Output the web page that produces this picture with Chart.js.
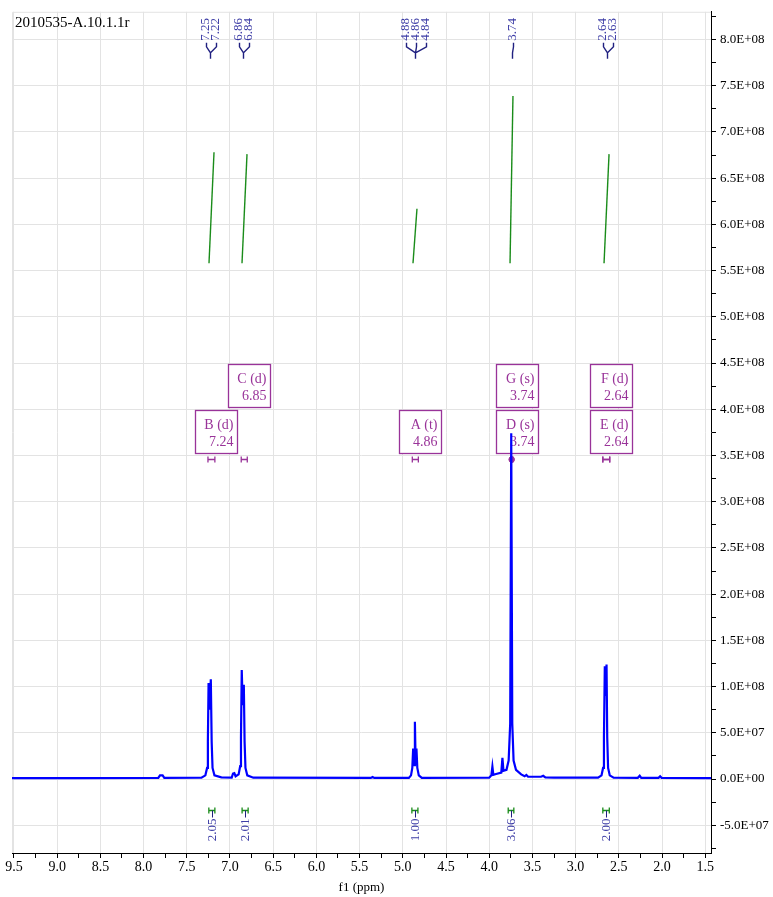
<!DOCTYPE html>
<html>
<head>
<meta charset="utf-8">
<script src="https://cdn.jsdelivr.net/npm/chart.js@4.4.0/dist/chart.umd.min.js"></script>
<style>
html, body { margin: 0; padding: 0; background: #fff; }
</style>
</head>
<body>
<canvas id="chart" width="773" height="897"></canvas>
<script>
var chart;

// Data -----------------------------------------------------------------------------------

var sampleName = '2010535-A.10.1.1r';
var axisTitle = 'f1 (ppm)';

// spectrum trace: shift (ppm) and intensity
var specPpm = [9.523, 8.80, 7.83, 7.81, 7.78, 7.76, 7.33, 7.285, 7.265, 7.256, 7.248, 7.236, 7.222, 7.212,
    7.202, 7.18, 7.10, 6.98, 6.965, 6.95, 6.935, 6.90, 6.882, 6.873, 6.864, 6.853, 6.840, 6.831, 6.821,
    6.80, 6.73, 5.37, 5.35, 5.33, 4.93, 4.905, 4.890, 4.880, 4.870, 4.860, 4.851, 4.842, 4.832, 4.815,
    4.78, 4.00, 3.975, 3.963, 3.952, 3.92, 3.86, 3.847, 3.835, 3.80, 3.775, 3.757, 3.745, 3.733, 3.718,
    3.69, 3.63, 3.59, 3.57, 3.55, 3.40, 3.375, 3.35, 3.25, 2.74, 2.70, 2.682, 2.672, 2.662, 2.652, 2.642,
    2.634, 2.624, 2.605, 2.56, 2.28, 2.258, 2.24, 2.04, 2.022, 2.005, 1.433];
var specInt = [1.0e6, 1.1e6, 1.2e6, 4.0e6, 4.0e6, 1.2e6, 1.5e6, 4.0e6, 1.2e7, 4.0e7, 1.04e8, 7.5e7, 1.08e8, 4.0e7,
    1.2e7, 4.0e6, 1.8e6, 1.5e6, 6.0e6, 6.5e6, 3.0e6, 5.0e6, 1.4e7, 4.5e7, 1.18e8, 8.0e7, 1.02e8, 4.0e7, 1.2e7,
    4.0e6, 1.5e6, 1.2e6, 2.2e6, 1.2e6, 1.3e6, 4.0e6, 1.2e7, 3.3e7, 1.5e7, 6.2e7, 1.5e7, 3.3e7, 1.2e7, 4.0e6,
    1.3e6, 1.5e6, 4.0e6, 1.35e7, 4.5e6, 5.5e6, 7.0e6, 2.3e7, 9.0e6, 1.0e7, 2.0e7, 6.0e7, 3.74e8, 6.0e7, 2.0e7,
    1.0e7, 5.0e6, 3.0e6, 4.5e6, 2.5e6, 2.5e6, 3.5e6, 1.8e6, 1.5e6, 1.5e6, 4.0e6, 1.2e7, 4.5e7, 1.22e8, 9.0e7, 1.24e8,
    4.5e7, 1.2e7, 4.0e6, 1.5e6, 1.3e6, 3.5e6, 1.3e6, 1.3e6, 3.0e6, 1.3e6, 1.0e6];

// integral curves (start/end shift, low/high level) and integral values
var intFrom = [7.243, 6.861, 4.882, 3.759, 2.671];
var intTo = [7.185, 6.803, 4.836, 3.725, 2.613];
var intLow = [5.58e8, 5.58e8, 5.58e8, 5.58e8, 5.58e8];
var intHigh = [6.78e8, 6.76e8, 6.17e8, 7.39e8, 6.76e8];
var intLabels = ['2.05', '2.01', '1.00', '3.06', '2.00'];
var intRangeHi = [7.245, 6.860, 4.895, 3.780, 2.685];
var intRangeLo = [7.175, 6.790, 4.825, 3.715, 2.610];

// peak picking labels, grouped by multiplet
var peakLabels = ['7.25', '7.22', '6.86', '6.84', '4.88', '4.86', '4.84', '3.74', '2.64', '2.63'];
var peakGroupSize = [2, 2, 3, 1, 2];

// multiplet analysis
var multLetters = ['A', 'B', 'C', 'D', 'E', 'F', 'G'];
var multTypes = ['t', 'd', 'd', 's', 'd', 'd', 's'];
var multShifts = ['4.86', '7.24', '6.85', '3.74', '2.64', '2.64', '3.74'];
var multHi = [4.890, 7.255, 6.870, 3.752, 2.685, 2.685, 3.752];
var multLo = [4.820, 7.175, 6.800, 3.728, 2.605, 2.605, 3.728];

// axis tick labels
var xTickLabels = ['9.5', '9.0', '8.5', '8.0', '7.5', '7.0', '6.5', '6.0', '5.5', '5.0', '4.5', '4.0',
    '3.5', '3.0', '2.5', '2.0', '1.5'];
var yTickLabels = ['-5.0E+07', '0.0E+00', '5.0E+07', '1.0E+08', '1.5E+08', '2.0E+08', '2.5E+08', '3.0E+08',
    '3.5E+08', '4.0E+08', '4.5E+08', '5.0E+08', '5.5E+08', '6.0E+08', '6.5E+08', '7.0E+08', '7.5E+08', '8.0E+08'];

// Constants ------------------------------------------------------------------------------

var FONT = "'Liberation Serif', 'DejaVu Serif', serif";
var GRID_COLOR = '#e3e3e3';
var SPEC_COLOR = '#0000ff';
var INT_COLOR = '#1a8c1a';
var MULT_COLOR = '#993399';
var PEAK_COLOR = '#3d3da6';
var PEAK_LINE_COLOR = '#202080';

var X_MIN = 1.433, X_MAX = 9.523;
var Y_MIN = -8.0e7, Y_MAX = 8.3e8;

var MULT_MARK_VALUE = 3.46e8;
var INT_MARK_VALUE = -3.35e7;
var BOX_W = 42, BOX_H = 43, BOX_SHIFT = 5;

// Functions ------------------------------------------------------------------------------

function majorValues(labels) {
    return labels.map(function (s) { return Number(s); });
}

function withMinor(values) {
    var out = [];
    for (var i = 0; i < values.length; i++) {
        out.push(values[i]);
        if (i < values.length - 1) out.push((values[i] + values[i + 1]) / 2);
    }
    return out;
}

function labelFor(labels, v) {
    for (var i = 0; i < labels.length; i++) {
        if (Math.abs(Number(labels[i]) - v) < 1e-6 * Math.max(1, Math.abs(v))) return labels[i];
    }
    return '';
}

function isMajor(labels, v) {
    return labelFor(labels, v) !== '';
}

function hMark(ctx, x1, x2, y, half) {
    ctx.beginPath();
    ctx.moveTo(x1, y - half); ctx.lineTo(x1, y + half);
    ctx.moveTo(x2, y - half); ctx.lineTo(x2, y + half);
    ctx.moveTo(x1, y); ctx.lineTo(x2, y);
    ctx.stroke();
}

var annotate = {
    id: 'annotate',
    beforeDatasetsDraw: function (c) {
        var ctx = c.ctx, a = c.chartArea, xs = c.scales.x, ys = c.scales.y;
        ctx.save();

        // light frame on the two open sides
        ctx.strokeStyle = GRID_COLOR;
        ctx.lineWidth = 1;
        ctx.beginPath();
        ctx.moveTo(a.left + 0.5, a.bottom);
        ctx.lineTo(a.left + 0.5, a.top + 0.5);
        ctx.lineTo(a.right, a.top + 0.5);
        ctx.stroke();

        // multiplet boxes
        var placed = [];
        var hy = Math.round(ys.getPixelForValue(MULT_MARK_VALUE)) + 0.5;
        for (var i = 0; i < multLetters.length; i++) {
            var x1 = xs.getPixelForValue(multHi[i]);
            var x2 = xs.getPixelForValue(multLo[i]);
            var cx = (x1 + x2) / 2 + BOX_SHIFT;
            var l = Math.round(cx - BOX_W / 2) + 0.5, r = l + BOX_W;
            var row = 0;
            while (placed.some(function (b) { return b.row === row && b.l < r && b.r > l; })) row++;
            placed.push({ l: l, r: r, row: row });

            var bottom = hy - 6 - row * (BOX_H + 3);
            var top = bottom - BOX_H;
            ctx.fillStyle = '#fff';
            ctx.fillRect(l, top, BOX_W, BOX_H);
            ctx.strokeStyle = MULT_COLOR;
            ctx.lineWidth = 1.3;
            ctx.strokeRect(l, top, BOX_W, BOX_H);

            ctx.fillStyle = MULT_COLOR;
            ctx.font = '14px ' + FONT;
            ctx.textAlign = 'right';
            ctx.textBaseline = 'middle';
            ctx.fillText(multLetters[i] + ' (' + multTypes[i] + ')', r - 4, top + 15);
            ctx.fillText(multShifts[i], r - 4, top + 32);

            ctx.lineWidth = 1.3;
            hMark(ctx, x1, x2, hy, 3);
            if (x2 - x1 < 4) {
                ctx.beginPath();
                ctx.arc((x1 + x2) / 2, hy, 3, 0, Math.PI * 2);
                ctx.fill();
            }
        }
        ctx.restore();
    },
    afterDraw: function (c) {
        var ctx = c.ctx, a = c.chartArea, xs = c.scales.x, ys = c.scales.y;
        ctx.save();

        // sample name
        ctx.fillStyle = '#000';
        ctx.font = '15px ' + FONT;
        ctx.textAlign = 'left';
        ctx.textBaseline = 'middle';
        ctx.fillText(sampleName, a.left + 3, a.top + 11);

        // peak labels at the top
        var k = 0;
        var leadTop = a.top + 31, leadEnd = a.top + 35, stemTop = a.top + 41, stemEnd = a.top + 47;
        ctx.font = '13px ' + FONT;
        for (var g = 0; g < peakGroupSize.length; g++) {
            var n = peakGroupSize[g], sum = 0;
            for (var j = 0; j < n; j++) sum += Number(peakLabels[k + j]);
            var sx = Math.round(xs.getPixelForValue(sum / n)) + 0.5;
            ctx.strokeStyle = PEAK_LINE_COLOR;
            ctx.lineWidth = 1.4;
            ctx.beginPath();
            ctx.moveTo(sx, stemTop); ctx.lineTo(sx, stemEnd);
            for (j = 0; j < n; j++) {
                var lx = Math.round(sx + (j - (n - 1) / 2) * 10) + 0.5;
                ctx.moveTo(lx, leadTop); ctx.lineTo(lx, leadEnd); ctx.lineTo(sx, stemTop);
            }
            ctx.stroke();
            ctx.fillStyle = PEAK_COLOR;
            for (j = 0; j < n; j++) {
                lx = sx + (j - (n - 1) / 2) * 10;
                ctx.save();
                ctx.translate(lx, leadTop - 2);
                ctx.rotate(-Math.PI / 2);
                ctx.textAlign = 'left';
                ctx.textBaseline = 'middle';
                ctx.fillText(peakLabels[k + j], 0, 0);
                ctx.restore();
            }
            k += n;
        }

        // integral labels under the baseline
        var iy = Math.round(ys.getPixelForValue(INT_MARK_VALUE)) + 0.5;
        ctx.font = '13px ' + FONT;
        for (var i = 0; i < intLabels.length; i++) {
            var x1 = xs.getPixelForValue(intRangeHi[i]);
            var x2 = xs.getPixelForValue(intRangeLo[i]);
            var cx = Math.round((x1 + x2) / 2) + 0.5;
            ctx.strokeStyle = INT_COLOR;
            ctx.lineWidth = 1.3;
            hMark(ctx, x1, x2, iy, 3);
            ctx.strokeStyle = PEAK_LINE_COLOR;
            ctx.lineWidth = 1;
            ctx.beginPath();
            ctx.moveTo(cx, iy); ctx.lineTo(cx, iy + 7);
            ctx.stroke();
            ctx.save();
            ctx.fillStyle = PEAK_COLOR;
            ctx.translate(cx, iy + 8);
            ctx.rotate(-Math.PI / 2);
            ctx.textAlign = 'right';
            ctx.textBaseline = 'middle';
            ctx.fillText(intLabels[i], 0, 0);
            ctx.restore();
        }
        ctx.restore();
    }
};

function buildDatasets() {
    var sets = [];
    for (var i = 0; i < intFrom.length; i++) {
        sets.push({
            data: [{ x: intFrom[i], y: intLow[i] }, { x: intTo[i], y: intHigh[i] }],
            borderColor: INT_COLOR,
            borderWidth: 1.4,
            showLine: true,
            pointRadius: 0
        });
    }
    sets.push({
        data: specPpm.map(function (p, i) { return { x: p, y: specInt[i] }; }),
        borderColor: SPEC_COLOR,
        borderWidth: 2.2,
        showLine: true,
        pointRadius: 0,
        tension: 0
    });
    return sets;
}

function initChart() {
    var context = document.getElementById('chart').getContext('2d');
    Chart.defaults.font.family = FONT;
    Chart.defaults.color = '#000';

    var xMajor = majorValues(xTickLabels);
    var yMajor = majorValues(yTickLabels);

    chart = new Chart(context, {
        type: 'scatter',
        data: { datasets: buildDatasets() },
        options: {
            responsive: false,
            animation: false,
            devicePixelRatio: 1,
            layout: { padding: { left: 12, top: 10, right: 0, bottom: 0 } },
            plugins: { legend: { display: false }, tooltip: { enabled: false } },
            scales: {
                x: {
                    type: 'linear',
                    reverse: true,
                    min: X_MIN,
                    max: X_MAX,
                    afterBuildTicks: function (s) {
                        s.ticks = withMinor(xMajor).map(function (v) { return { value: v }; });
                    },
                    afterFit: function (s) { s.height = 44; },
                    grid: {
                        color: function (ctx) {
                            return ctx.tick && isMajor(xTickLabels, ctx.tick.value) ? GRID_COLOR : 'rgba(0,0,0,0)';
                        },
                        tickColor: '#000',
                        tickLength: 5
                    },
                    border: { display: true, color: '#000', width: 1 },
                    ticks: {
                        autoSkip: false,
                        maxRotation: 0,
                        padding: 1,
                        font: { size: 14 },
                        color: '#000',
                        callback: function (v) { return labelFor(xTickLabels, v); }
                    },
                    title: {
                        display: true,
                        text: axisTitle,
                        font: { size: 13 },
                        color: '#000',
                        padding: { top: 0, bottom: 2 }
                    }
                },
                y: {
                    type: 'linear',
                    position: 'right',
                    min: Y_MIN,
                    max: Y_MAX,
                    afterBuildTicks: function (s) {
                        var vals = withMinor(yMajor);
                        vals.unshift(yMajor[0] - 2.5e7);
                        vals.push(yMajor[yMajor.length - 1] + 2.5e7);
                        s.ticks = vals.map(function (v) { return { value: v }; });
                    },
                    afterFit: function (s) { s.width = 62; },
                    grid: {
                        color: function (ctx) {
                            return ctx.tick && isMajor(yTickLabels, ctx.tick.value) ? GRID_COLOR : 'rgba(0,0,0,0)';
                        },
                        tickColor: '#000',
                        tickLength: 5
                    },
                    border: { display: true, color: '#000', width: 1 },
                    ticks: {
                        autoSkip: false,
                        padding: 4,
                        font: { size: 13 },
                        color: '#000',
                        callback: function (v) { return labelFor(yTickLabels, v); }
                    }
                }
            }
        },
        plugins: [annotate]
    });
}

initChart();
</script>
</body>
</html>
